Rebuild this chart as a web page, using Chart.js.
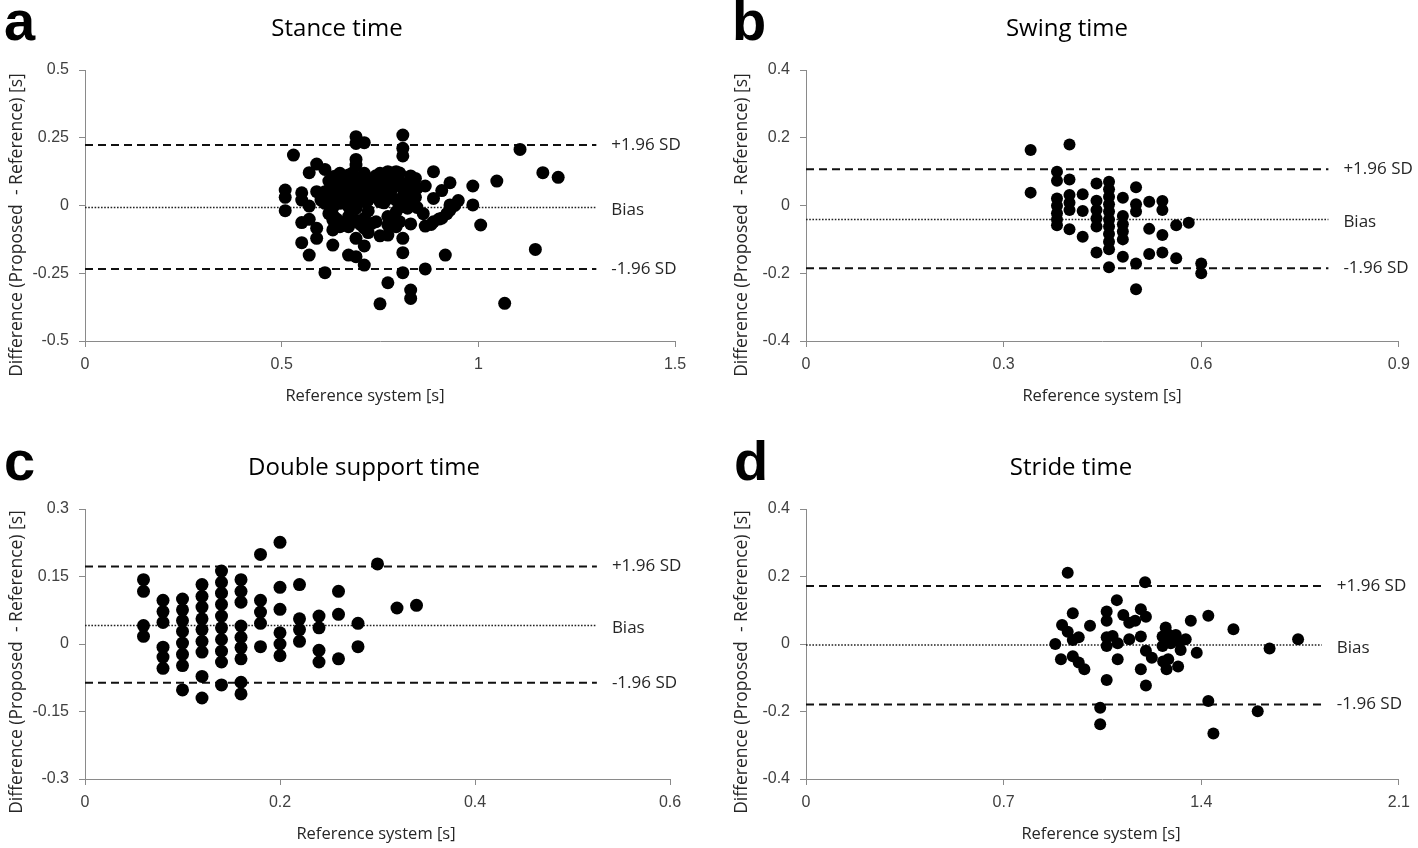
<!DOCTYPE html>
<html>
<head>
<meta charset="utf-8">
<script src="https://cdn.jsdelivr.net/npm/chart.js@4.4.0/dist/chart.umd.min.js"></script>
<style>
  body { margin: 0; width: 1418px; height: 848px; background: #fff; position: relative; overflow: hidden; font-family: "Open Sans", sans-serif; }
  canvas { position: absolute; }
  .txt { position: absolute; white-space: pre; line-height: 1; color: #1a1a1a; }
  .letter { font-family: "Liberation Sans Narrow", "Liberation Sans", sans-serif; font-weight: bold; font-size: 56px; color: #000; }
</style>
</head>
<body>
<script>
// Bland-Altman plots: difference (proposed - reference) vs reference value

const stancePoints = [
  [0.509,0.057],[0.509,0.030],[0.509,-0.019],[0.530,0.186],
  [0.551,0.047],[0.551,0.020],[0.551,-0.063],[0.551,-0.137],
  [0.570,0.121],[0.570,-0.002],[0.570,-0.051],[0.570,-0.183],
  [0.589,0.153],[0.589,0.051],[0.589,-0.084],[0.589,-0.121],
  [0.610,0.133],[0.610,0.051],[0.610,0.008],[0.610,-0.248],
  [0.630,0.106],[0.630,0.076],[0.630,0.033],[0.630,-0.007],[0.630,-0.035],[0.630,-0.053],[0.630,-0.090],[0.630,-0.146],
  [0.648,0.119],[0.648,0.088],[0.648,0.051],[0.648,0.008],[0.648,-0.078],
  [0.670,0.113],[0.670,0.076],[0.670,0.039],[0.670,-0.004],[0.670,-0.041],[0.670,-0.078],[0.670,-0.183],
  [0.689,0.254],[0.689,0.229],[0.689,0.170],[0.689,0.149],[0.689,0.100],[0.689,0.063],[0.689,0.020],[0.689,-0.011],[0.689,-0.054],[0.689,-0.121],[0.689,-0.189],
  [0.710,0.232],[0.710,0.119],[0.710,0.051],[0.710,0.014],[0.710,-0.047],[0.710,-0.084],[0.710,-0.149],[0.710,-0.220],
  [0.729,0.082],[0.729,0.033],[0.729,-0.066],
  [0.750,0.119],[0.750,0.063],[0.750,0.014],[0.750,-0.112],[0.750,-0.363],
  [0.770,0.125],[0.770,0.076],[0.770,0.026],[0.770,-0.041],[0.770,-0.072],[0.770,-0.109],[0.770,-0.285],
  [0.791,0.125],[0.791,0.088],[0.791,0.020],[0.791,-0.023],[0.791,-0.078],
  [0.808,0.260],[0.808,0.211],[0.808,0.183],[0.808,0.063],[0.808,0.033],[0.808,-0.004],[0.808,-0.121],[0.808,-0.174],[0.808,-0.248],
  [0.828,0.109],[0.828,0.039],[0.828,0.014],[0.828,-0.068],[0.828,-0.312],[0.828,-0.343],
  [0.844,0.063],[0.844,-0.007],[0.865,0.072],[0.865,-0.076],[0.865,-0.234],
  [0.886,0.125],[0.886,0.026],[0.886,-0.060],[0.907,0.055],[0.907,-0.047],[0.916,-0.183],
  [0.928,0.084],[0.928,0.002],[0.928,-0.017],[0.949,0.018],[0.986,0.072],[0.986,0.002],
  [1.006,-0.072],[1.047,0.090],[1.067,-0.361],[1.106,0.207],[1.145,-0.162],[1.164,0.121],[1.203,0.104],
  [0.660,0.100],[0.680,0.080],[0.700,0.100],[0.720,0.100],[0.740,0.110],[0.760,0.110],[0.780,0.120],
  [0.800,0.120],[0.820,0.080],[0.720,0.050],[0.740,0.040],[0.760,0.050],[0.780,0.060],[0.660,0.060],
  [0.640,0.040],[0.620,0.050],[0.600,0.020],[0.720,-0.020],[0.740,-0.060],[0.680,-0.060],[0.660,-0.070],
  [0.640,-0.050],[0.800,0.020],[0.820,-0.010],[0.840,0.030],[0.860,-0.030],[0.880,-0.070],[0.900,-0.050],
  [0.920,-0.030],[0.940,0.000],
  [0.620,0.090],[0.640,0.110],[0.680,0.120],[0.700,0.070],[0.720,0.080],[0.740,0.080],[0.760,0.090],
  [0.780,0.090],[0.800,0.090],[0.700,0.030],[0.720,0.020],[0.760,0.010],[0.780,0.030],[0.660,0.020],
  [0.620,-0.030],[0.700,-0.070],[0.720,-0.100],[0.780,-0.050],[0.800,-0.060],[0.840,0.100]
];
const stanceLimits = [0.223, -0.007, -0.234];   // +1.96 SD, bias, -1.96 SD

const swingPoints = [
  [0.341,0.164],[0.341,0.038],[0.400,0.180],
  [0.381,0.100],[0.381,0.073],[0.381,0.021],[0.381,-0.001],[0.381,-0.023],[0.381,-0.041],[0.381,-0.058],
  [0.400,0.077],[0.400,0.031],[0.400,0.008],[0.400,-0.013],[0.400,-0.070],
  [0.420,0.033],[0.420,-0.016],[0.420,-0.092],
  [0.441,0.065],[0.441,0.014],[0.441,-0.013],[0.441,-0.038],[0.441,-0.062],[0.441,-0.139],
  [0.460,0.070],[0.460,0.048],[0.460,0.026],[0.460,0.004],[0.460,-0.018],[0.460,-0.041],[0.460,-0.062],[0.460,-0.084],[0.460,-0.107],[0.460,-0.129],[0.460,-0.182],
  [0.481,0.023],[0.481,-0.031],[0.481,-0.055],[0.481,-0.077],[0.481,-0.100],[0.481,-0.151],
  [0.501,0.054],[0.501,0.004],[0.501,-0.018],[0.501,-0.171],[0.501,-0.247],
  [0.521,0.011],[0.521,-0.069],[0.521,-0.143],
  [0.541,0.013],[0.541,-0.013],[0.541,-0.087],[0.541,-0.139],
  [0.562,-0.058],[0.562,-0.156],[0.581,-0.051],[0.600,-0.171],[0.600,-0.200]
];
const swingLimits = [0.107, -0.041, -0.185];

const doublePoints = [
  [0.06,0.143],[0.06,0.117],[0.06,0.041],[0.06,0.017],
  [0.08,0.097],[0.08,0.072],[0.08,0.048],[0.08,-0.007],[0.08,-0.029],[0.08,-0.054],
  [0.10,0.100],[0.10,0.076],[0.10,0.052],[0.10,0.028],[0.10,0.002],[0.10,-0.023],[0.10,-0.048],[0.10,-0.102],
  [0.12,0.132],[0.12,0.106],[0.12,0.082],[0.12,0.056],[0.12,0.032],[0.12,0.006],[0.12,-0.018],[0.12,-0.072],[0.12,-0.120],
  [0.14,0.162],[0.14,0.137],[0.14,0.113],[0.14,0.088],[0.14,0.062],[0.14,0.036],[0.14,0.010],[0.14,-0.016],[0.14,-0.040],[0.14,-0.091],
  [0.16,0.143],[0.16,0.117],[0.16,0.093],[0.16,0.040],[0.16,0.015],[0.16,-0.008],[0.16,-0.033],[0.16,-0.085],[0.16,-0.111],
  [0.18,0.199],[0.18,0.097],[0.18,0.071],[0.18,0.046],[0.18,-0.006],
  [0.20,0.226],[0.20,0.126],[0.20,0.077],[0.20,0.025],[0.20,0.000],[0.20,-0.026],
  [0.22,0.132],[0.22,0.056],[0.22,0.032],[0.22,0.006],
  [0.24,0.062],[0.24,0.036],[0.24,-0.014],[0.24,-0.040],
  [0.26,0.117],[0.26,0.066],[0.26,-0.033],
  [0.28,0.046],[0.28,-0.006],[0.30,0.178],[0.32,0.080],[0.34,0.086]
];
const doubleLimits = [0.172, 0.041, -0.086];

const stridePoints = [
  [0.927,0.211],[1.201,0.183],[1.101,0.130],[0.945,0.091],[0.907,0.056],[0.927,0.036],[0.945,0.012],
  [0.966,0.020],[1.006,0.054],[0.883,0.000],[0.903,-0.045],[0.945,-0.036],[0.966,-0.055],[0.986,-0.075],
  [1.065,0.096],[1.065,0.069],[1.065,0.020],[1.086,0.024],[1.065,-0.006],[1.104,0.002],[1.104,-0.045],
  [1.065,-0.107],[1.042,-0.189],[1.042,-0.238],[1.124,0.086],[1.145,0.063],[1.166,0.069],[1.145,0.014],
  [1.186,0.103],[1.204,0.081],[1.186,0.022],[1.204,-0.020],[1.225,-0.041],[1.186,-0.075],[1.204,-0.123],
  [1.274,0.049],[1.286,0.027],[1.263,0.022],[1.310,0.027],[1.263,-0.006],[1.292,0.002],[1.322,0.007],
  [1.345,0.014],[1.327,-0.018],[1.265,-0.052],[1.283,-0.045],[1.277,-0.075],[1.318,-0.067],
  [1.363,0.069],[1.384,-0.026],[1.425,0.084],[1.425,-0.169],[1.443,-0.265],[1.514,0.044],
  [1.600,-0.199],[1.642,-0.013],[1.743,0.014]
];
const strideLimits = [0.172, -0.003, -0.179];

const limitLabels = ['+1.96 SD', 'Bias', '-1.96 SD'];

const stanceXTicks = [0, 0.5, 1, 1.5];
const stanceYTicks = [-0.5, -0.25, 0, 0.25, 0.5];
const swingXTicks = [0, 0.3, 0.6, 0.9];
const swingYTicks = [-0.4, -0.2, 0, 0.2, 0.4];
const doubleXTicks = [0, 0.2, 0.4, 0.6];
const doubleYTicks = [-0.3, -0.15, 0, 0.15, 0.3];
const strideXTicks = [0, 0.7, 1.4, 2.1];
const strideYTicks = [-0.4, -0.2, 0, 0.2, 0.4];

const panels = [
  { letter: 'a', title: 'Stance time', points: stancePoints, limits: stanceLimits, lineEnd: 1.30,
    xTicks: stanceXTicks, yTicks: stanceYTicks, radius: 6.5,
    left: 0, top: 0, yw: 85, pad: { left: 0, right: 34, top: 70, bottom: 43 },
    letterPos: [4, -7], titlePos: [337, 27], yTitlePos: [16, 225], xTitlePos: [365, 395] },
  { letter: 'b', title: 'Swing time', points: swingPoints, limits: swingLimits, lineEnd: 0.793,
    xTicks: swingXTicks, yTicks: swingYTicks, radius: 6,
    left: 709, top: 0, yw: 97, pad: { left: 0, right: 18, top: 70, bottom: 43 },
    letterPos: [732, -7], titlePos: [1067, 27], yTitlePos: [741, 225], xTitlePos: [1102, 395] },
  { letter: 'c', title: 'Double support time', points: doublePoints, limits: doubleLimits, lineEnd: 0.525,
    xTicks: doubleXTicks, yTicks: doubleYTicks, radius: 6.5,
    left: 0, top: 424, yw: 85, pad: { left: 0, right: 39, top: 85, bottom: 29 },
    letterPos: [4, 433], titlePos: [364, 466], yTitlePos: [16, 662], xTitlePos: [376, 833] },
  { letter: 'd', title: 'Stride time', points: stridePoints, limits: strideLimits, lineEnd: 1.827,
    xTicks: strideXTicks, yTicks: strideYTicks, radius: 6,
    left: 709, top: 424, yw: 97, pad: { left: 0, right: 18, top: 85, bottom: 29 },
    letterPos: [734, 433], titlePos: [1071, 466], yTitlePos: [741, 662], xTitlePos: [1101, 833] }
];

// writes "+1.96 SD", "Bias", "-1.96 SD" to the right of each line
const limitLabelPlugin = {
  id: 'limitLabels',
  afterDatasetsDraw(chart, args, opts) {
    const { ctx, scales } = chart;
    ctx.save();
    ctx.font = '17px "Open Sans", sans-serif';
    ctx.fillStyle = '#262626';
    ctx.textAlign = 'left';
    ctx.textBaseline = 'middle';
    opts.limits.forEach((v, i) => {
      const x = scales.x.getPixelForValue(opts.lineEnd) + 15;
      const y = scales.y.getPixelForValue(v) + (i === 1 ? 3 : 0);
      ctx.fillText(limitLabels[i], x, y);
    });
    ctx.restore();
  }
};

function addText(text, cls, x, y, style) {
  const d = document.createElement('div');
  d.className = 'txt ' + cls;
  d.textContent = text;
  d.style.left = x + 'px';
  d.style.top = y + 'px';
  Object.assign(d.style, style || {});
  document.body.appendChild(d);
  return d;
}

function limitLine(y, end, dash, width, color) {
  return {
    data: [{ x: 0, y: y }, { x: end, y: y }],
    showLine: true,
    borderColor: color,
    borderWidth: width,
    borderDash: dash,
    pointRadius: 0,
    fill: false
  };
}

const axisGray = '#8a8a8a';

panels.forEach((p) => {
  const canvas = document.createElement('canvas');
  canvas.width = 709;
  canvas.height = 424;
  canvas.style.left = p.left + 'px';
  canvas.style.top = p.top + 'px';
  document.body.appendChild(canvas);

  const [upper, bias, lower] = p.limits;

  new Chart(canvas.getContext('2d'), {
    type: 'scatter',
    data: {
      datasets: [
        {
          data: p.points.map(([x, y]) => ({ x, y })),
          backgroundColor: '#000',
          borderColor: '#000',
          borderWidth: 0,
          pointRadius: p.radius,
          pointHoverRadius: p.radius
        },
        limitLine(upper, p.lineEnd, [8, 5], 2, '#111'),
        limitLine(bias, p.lineEnd, [1.6, 1.6], 1.5, '#222'),
        limitLine(lower, p.lineEnd, [8, 5], 2, '#111')
      ]
    },
    options: {
      responsive: false,
      animation: false,
      events: [],
      layout: { padding: p.pad },
      plugins: {
        legend: { display: false },
        tooltip: { enabled: false },
        limitLabels: { limits: p.limits, lineEnd: p.lineEnd }
      },
      scales: {
        x: {
          type: 'linear',
          min: p.xTicks[0],
          max: p.xTicks[p.xTicks.length - 1],
          afterBuildTicks: (s) => { s.ticks = p.xTicks.map((v) => ({ value: v })); },
          afterFit: (s) => { s.height = 40; },
          grid: { drawOnChartArea: false, tickLength: 6, color: axisGray },
          border: { color: axisGray, width: 1 },
          ticks: { padding: 8, color: '#404040', font: { size: 16 }, maxRotation: 0, autoSkip: false,
                   callback: (v) => String(v) }
        },
        y: {
          type: 'linear',
          min: p.yTicks[0],
          max: p.yTicks[p.yTicks.length - 1],
          afterBuildTicks: (s) => { s.ticks = p.yTicks.map((v) => ({ value: v })); },
          afterFit: (s) => { s.width = p.yw; },
          grid: { drawOnChartArea: false, tickLength: 6, color: axisGray },
          border: { color: axisGray, width: 1 },
          ticks: { padding: 10, color: '#404040', font: { size: 16 }, autoSkip: false,
                   callback: (v) => String(v) }
        }
      }
    },
    plugins: [limitLabelPlugin]
  });

  addText(p.letter, 'letter', p.letterPos[0], p.letterPos[1]);
  addText(p.title, '', p.titlePos[0], p.titlePos[1], { fontSize: '24px', transform: 'translate(-50%,-50%)', color: '#000' });
  addText('Difference (Proposed  - Reference) [s]', '', p.yTitlePos[0], p.yTitlePos[1],
          { fontSize: '17.5px', transform: 'translate(-50%,-50%) rotate(-90deg)', color: '#262626' });
  addText('Reference system [s]', '', p.xTitlePos[0], p.xTitlePos[1],
          { fontSize: '16.5px', transform: 'translate(-50%,-50%)', color: '#262626' });
});
</script>
</body>
</html>
